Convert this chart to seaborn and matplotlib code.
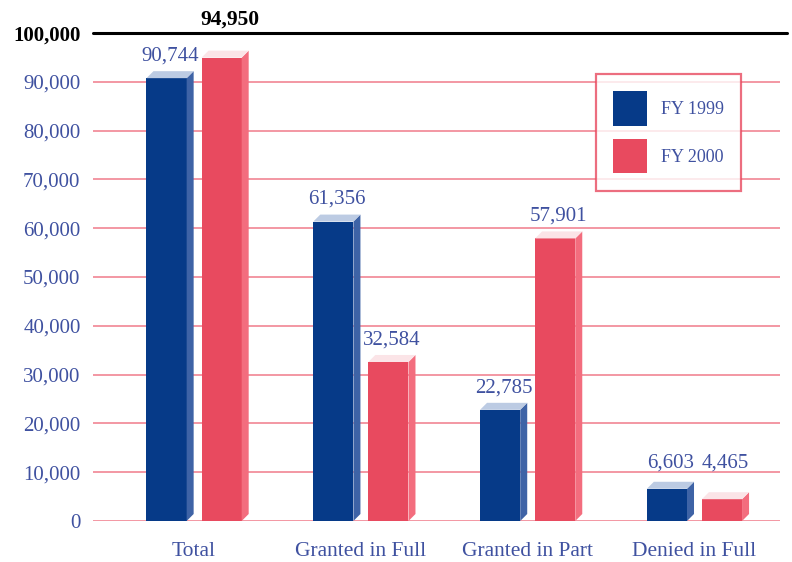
import matplotlib
matplotlib.use("Agg")
import matplotlib.pyplot as plt
from matplotlib.patches import Polygon, Patch
import pandas as pd
import seaborn as sns

# Data
categories = ["Total", "Granted in Full", "Granted in Part", "Denied in Full"]
fy1999 = [90744, 61356, 22785, 6603]
fy2000 = [94950, 32584, 57901, 4465]
series_names = ["FY 1999", "FY 2000"]
y_ticks = list(range(0, 100001, 10000))

# Colours
BLUE = "#063a88"
BLUE_SIDE = "#3e63a6"
BLUE_TOP = "#bccbe3"
RED = "#e84a5f"
RED_SIDE = "#f36d7e"
RED_TOP = "#fbe4e7"
TEXT_BLUE = "#3f51a0"
GRID = "#f07a8a"
FONT = "Liberation Serif"

df = pd.DataFrame({
    "category": categories * 2,
    "value": fy1999 + fy2000,
    "year": [series_names[0]] * len(categories) + [series_names[1]] * len(categories),
})

sns.set_theme(style="white")
plt.rcParams["font.family"] = [FONT, "DejaVu Serif"]

fig = plt.figure(figsize=(7.92, 5.62), dpi=100)
ax = fig.add_axes([93 / 792, 41 / 562, 687 / 792, 488 / 562])

sns.barplot(data=df, x="category", y="value", hue="year", order=categories,
            hue_order=series_names, palette=[BLUE, RED], saturation=1,
            width=0.66, gap=0.27, legend=False, ax=ax, zorder=3, edgecolor="none")

ax.set_xlim(-0.606, 3.513)
ax.set_ylim(0, 100000)

# pixel -> data conversion for the 3D depth
px_x = (3.513 + 0.606) / 687
px_y = 100000 / 488
dx = 7 * px_x
dy = 7 * px_y

bars = [p for p in ax.patches if p.get_height() > 0]
values = fy1999 + fy2000
small_top = max(v for v in values if v < 10000)
for i, bar in enumerate(bars):
    x0 = bar.get_x()
    w = bar.get_width()
    x1 = x0 + w
    h = bar.get_height()
    is_blue = i < len(categories)
    side_c = BLUE_SIDE if is_blue else RED_SIDE
    top_c = BLUE_TOP if is_blue else RED_TOP
    side = Polygon([(x1, 0), (x1 + dx, dy), (x1 + dx, h + dy), (x1, h)],
                   closed=True, facecolor=side_c, edgecolor="none", zorder=3)
    top = Polygon([(x0, h), (x1, h), (x1 + dx, h + dy), (x0 + dx, h + dy)],
                  closed=True, facecolor=top_c, edgecolor="none", zorder=3)
    ax.add_patch(side)
    ax.add_patch(top)

    label = f"{values[i]:,}"
    cx = x0 + (w + dx) / 2
    if values[i] == max(values):
        ax.annotate(label, (cx + 0.03, h + dy), xytext=(0, 15), textcoords="offset points",
                    ha="center", va="bottom", fontsize=15.5, fontweight="bold",
                    color="black", annotation_clip=False, zorder=6)
    else:
        # the two short bars share a common label line
        anchor = max(h, small_top) if h < 10000 else h
        ax.annotate(label, (cx, anchor + dy), xytext=(0, 7 if h < 10000 else 4),
                    textcoords="offset points", ha="center", va="bottom",
                    fontsize=15, color=TEXT_BLUE, annotation_clip=False, zorder=6)

# Horizontal rules
for t in y_ticks[:-1]:
    ax.axhline(t, color=GRID, lw=1.1, zorder=1)
ax.plot([0, 1.01], [1, 1], transform=ax.transAxes, color="black", lw=2.2,
        clip_on=False, zorder=5)

for s in ax.spines.values():
    s.set_visible(False)

ax.set_yticks(y_ticks)
ax.set_yticklabels([f"{t:,}" for t in y_ticks])
ax.tick_params(axis="y", length=0, pad=9, labelsize=15, labelcolor=TEXT_BLUE)
ax.tick_params(axis="x", length=0, pad=15, labelsize=15.5, labelcolor=TEXT_BLUE)
for lbl in ax.get_yticklabels():
    if lbl.get_text() == "100,000":
        lbl.set_color("black")
        lbl.set_fontweight("bold")
ax.set_xlabel("")
ax.set_ylabel("")

handles = [Patch(facecolor=BLUE, edgecolor="none"), Patch(facecolor=RED, edgecolor="none")]
leg = fig.legend(handles, series_names, loc="upper left",
                 bbox_to_anchor=(596 / 792, 1 - 74 / 562), bbox_transform=fig.transFigure,
                 frameon=True, fancybox=False, fontsize=13, handlelength=1.9,
                 handleheight=2.55, labelspacing=0.75, borderpad=0.95,
                 handletextpad=0.75, borderaxespad=0)
leg.get_frame().set_edgecolor(RED)
leg.get_frame().set_linewidth(1.6)
for t in leg.get_texts():
    t.set_color(TEXT_BLUE)

fig.savefig("out.png", dpi=100, facecolor="white")
